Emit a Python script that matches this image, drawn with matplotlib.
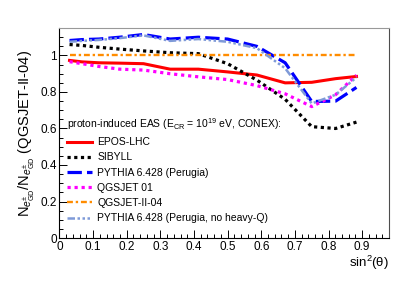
import numpy as np
import matplotlib
matplotlib.use("Agg")
import matplotlib.pyplot as plt
from matplotlib.ticker import MultipleLocator

plt.rcParams["font.family"] = ["Liberation Sans", "DejaVu Sans"]
plt.rcParams["mathtext.fontset"] = "custom"
plt.rcParams["mathtext.rm"] = "Liberation Sans"
plt.rcParams["mathtext.it"] = "Liberation Sans:italic"

# ── Data (zenith bins, sin^2 theta) ──
sin2 = [0.030, 0.067, 0.117, 0.179, 0.250, 0.329, 0.413, 0.500, 0.587, 0.671, 0.750, 0.821, 0.883]

epos    = [0.973, 0.965, 0.960, 0.958, 0.955, 0.925, 0.925, 0.910, 0.893, 0.850, 0.853, 0.873, 0.885]
sibyll  = [1.060, 1.055, 1.045, 1.035, 1.025, 1.015, 1.010, 0.955, 0.865, 0.760, 0.610, 0.600, 0.635]
pythia  = [1.082, 1.087, 1.090, 1.100, 1.115, 1.090, 1.100, 1.090, 1.050, 0.960, 0.748, 0.750, 0.825]
qgs01   = [0.966, 0.955, 0.940, 0.925, 0.920, 0.900, 0.883, 0.868, 0.835, 0.790, 0.720, 0.785, 0.892]
qgsII   = [1.000, 1.000, 1.000, 1.000, 1.000, 1.000, 1.000, 1.000, 1.000, 1.000, 1.000, 1.000, 1.000]
pyth_nq = [1.075, 1.080, 1.085, 1.095, 1.110, 1.080, 1.090, 1.075, 1.040, 0.930, 0.737, 0.785, 0.880]

labels = ["EPOS-LHC", "SIBYLL", "PYTHIA 6.428 (Perugia)", "QGSJET 01",
          "QGSJET-II-04", "PYTHIA 6.428 (Perugia, no heavy-Q)"]

fig = plt.figure(figsize=(4.1, 2.81), dpi=100)
ax = fig.add_axes([0.145, 0.153, 0.804, 0.747])

ax.plot(sin2, epos, color="#ff0000", lw=2.2, ls="-", label=labels[0])
ax.plot(sin2, sibyll, color="black", lw=2.3, ls=(0, (1, 1.1)), label=labels[1])
ax.plot(sin2, pythia, color="#0000ff", lw=2.3, ls=(0, (4.5, 1.6)), label=labels[2])
ax.plot(sin2, qgs01, color="#ff00ff", lw=2.3, ls=(0, (1, 1.2)), label=labels[3])
ax.plot(sin2, qgsII, color="#ff8c00", lw=1.7, ls=(0, (2.5, 1.2, 1, 1.2)), label=labels[4])
ax.plot(sin2, pyth_nq, color="#7f9ad8", lw=1.8, ls=(0, (3, 1, 1, 1, 1, 1, 1, 1)), label=labels[5])

ax.set_xlim(0, 0.98)
ax.set_ylim(0, 1.15)
ax.xaxis.set_minor_locator(MultipleLocator(0.02))
ax.yaxis.set_minor_locator(MultipleLocator(0.05))
ax.set_xticks(np.arange(0, 1.0, 0.1))
ax.set_xticklabels(["0", "0.1", "0.2", "0.3", "0.4", "0.5", "0.6", "0.7", "0.8", "0.9"])
ax.set_yticks([0, 0.2, 0.4, 0.6, 0.8, 1.0])
ax.set_yticklabels(["0", "0.2", "0.4", "0.6", "0.8", "1"])
ax.tick_params(which="both", direction="in", top=False, right=False, labelsize=8.5, width=0.7)
ax.tick_params(which="major", length=6, pad=2)
ax.tick_params(which="minor", length=3)
for s in ax.spines.values():
    s.set_linewidth(0.8)
ax.spines["top"].set_color("0.6")
ax.spines["right"].set_color("0.3")

ax.set_xlabel("sin$^{2}$(θ)", fontsize=9.5, loc="right", labelpad=1)
ax.set_ylabel(r"N$_{e^{\pm}_{\rm GD}}$/N$_{e^{\pm}_{\rm GD}}$ (QGSJET-II-04)", fontsize=10.5, labelpad=2)

leg = ax.legend(loc="upper left", bbox_to_anchor=(0.02, 0.585), frameon=False,
                title=r"proton-induced EAS (E$_{\rm CR}$ = 10$^{19}$ eV, CONEX):",
                title_fontsize=7.5, fontsize=7.5, alignment="left",
                handlelength=2.4, handletextpad=0.5, labelspacing=0.5,
                borderaxespad=0, borderpad=0.1)

fig.savefig("out.png", dpi=100, facecolor="white")
